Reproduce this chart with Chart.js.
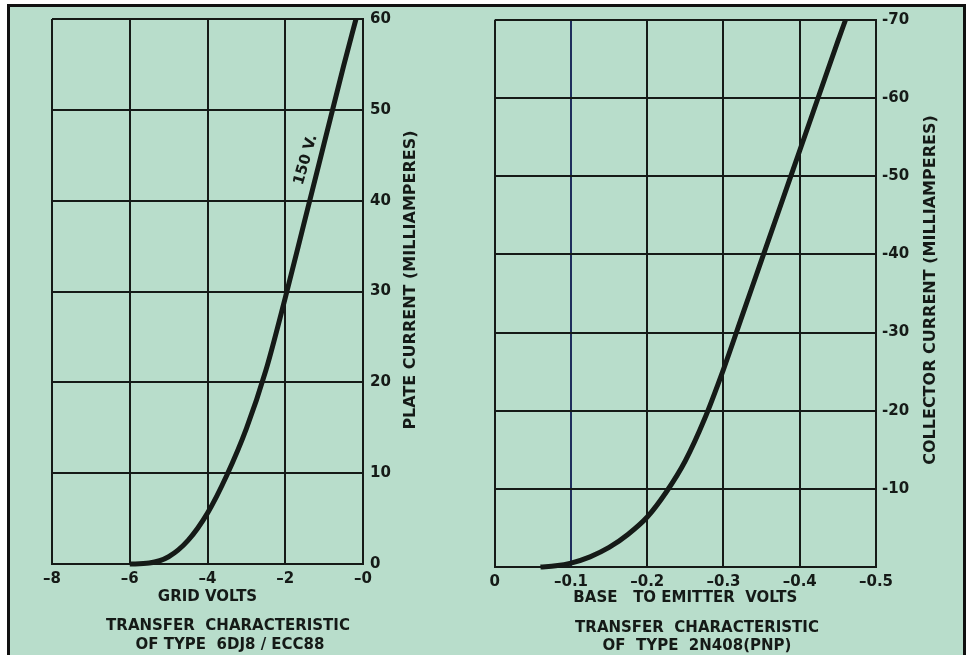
<!DOCTYPE html>
<html>
<head>
<meta charset="utf-8">
<script src="https://cdn.jsdelivr.net/npm/chart.js@4"></script>
<style>
  html, body { margin: 0; padding: 0; background: #fff; }
  body { width: 966px; height: 655px; position: relative; overflow: hidden; }
  #frame { position: absolute; left: 7px; top: 4px; width: 953px; height: 660px;
           border: 3px solid #111; border-bottom: none; background: #b8ddcb; }
  canvas { position: absolute; top: 0; }
  #tube { left: 0; }
  #transistor { left: 483px; }
</style>
</head>
<body>
<div id="frame"></div>
<canvas id="tube" width="483" height="655"></canvas>
<canvas id="transistor" width="483" height="655"></canvas>
<script>
// 6DJ8 / ECC88, 150 V plate
const gridVolts = [-6.0, -5.5, -5.0, -4.5, -4.0, -3.5, -3.0, -2.5, -2.0, -1.5, -1.0, -0.5, -0.18];
const plateCurrent = [0, 0.1, 0.8, 2.6, 5.6, 9.8, 14.9, 21.3, 29.3, 37.8, 46.3, 54.8, 60];

// 2N408 (PNP)
const baseVolts = [-0.06, -0.08, -0.10, -0.125, -0.15, -0.175, -0.20, -0.225, -0.25, -0.275, -0.30, -0.325, -0.35, -0.375, -0.40, -0.425, -0.45, -0.46];
const collectorCurrent = [0, -0.15, -0.5, -1.3, -2.5, -4.2, -6.4, -9.6, -13.6, -18.9, -25.3, -32.3, -39.3, -46.3, -53.3, -60.3, -67.3, -70];

const ink = '#151a17';
const fam = "'DejaVu Sans', sans-serif";
Chart.defaults.font.family = fam;
Chart.defaults.font.weight = 'bold';
Chart.defaults.color = ink;

// free texts: right-side axis titles, curve label, captions
function sideText(items) {
  return {
    id: 'sideText',
    afterDraw(chart) {
      const ctx = chart.ctx;
      items.forEach(t => {
        let x = t.x, y = t.y;
        if (t.at) {
          x = chart.scales.x.getPixelForValue(t.at[0]);
          y = chart.scales.y.getPixelForValue(t.at[1]);
        }
        ctx.save();
        ctx.fillStyle = ink;
        ctx.textAlign = 'center';
        ctx.textBaseline = 'middle';
        ctx.font = t.font;
        ctx.translate(x, y);
        ctx.rotate((t.angle || 0) * Math.PI / 180);
        ctx.fillText(t.text, 0, 0);
        ctx.restore();
      });
    }
  };
}

const gridOpts = { color: ink, lineWidth: 2, drawTicks: false };
const borderOpts = { color: ink, width: 2 };
const capFont = 'bold 15px ' + fam;
const titleFont = 'bold 16px ' + fam;

new Chart(document.getElementById('tube'), {
  type: 'line',
  data: {
    datasets: [{
      data: gridVolts.map((v, i) => ({ x: v, y: plateCurrent[i] })),
      borderColor: ink,
      borderWidth: 5,
      pointRadius: 0,
      cubicInterpolationMode: 'monotone',
      clip: 4
    }]
  },
  options: {
    responsive: false,
    animation: false,
    layout: { padding: { left: 52, right: 60, top: 19, bottom: 38.5 } },
    plugins: { legend: { display: false }, tooltip: { enabled: false } },
    scales: {
      x: {
        type: 'linear', min: -8, max: 0, position: 'bottom',
        ticks: { stepSize: 2, padding: 6.5, font: { size: 15 }, callback: v => '–' + Math.abs(v) },
        grid: gridOpts,
        border: borderOpts,
        title: { display: true, text: 'GRID VOLTS', font: { size: 15 }, padding: { top: 0, bottom: 10 } },
        afterFit: s => { s.height = 52.5; }
      },
      y: {
        type: 'linear', min: 0, max: 60, position: 'right',
        ticks: { stepSize: 10, padding: 7, font: { size: 15 } },
        grid: gridOpts,
        border: borderOpts,
        afterFit: s => { s.width = 60; }
      }
    }
  },
  plugins: [sideText([
    { text: 'PLATE CURRENT (MILLIAMPERES)', x: 411, y: 280, angle: -90, font: titleFont },
    { text: '150 V.', at: [-1.47, 44.5], angle: -74, font: 'bold 15px ' + fam },
    { text: 'TRANSFER  CHARACTERISTIC', x: 228, y: 626, font: capFont },
    { text: 'OF TYPE  6DJ8 / ECC88', x: 230, y: 645, font: capFont }
  ])]
});

new Chart(document.getElementById('transistor'), {
  type: 'line',
  data: {
    datasets: [{
      data: baseVolts.map((v, i) => ({ x: v, y: collectorCurrent[i] })),
      borderColor: ink,
      borderWidth: 5,
      pointRadius: 0,
      cubicInterpolationMode: 'monotone',
      clip: 4
    }]
  },
  options: {
    responsive: false,
    animation: false,
    layout: { padding: { left: 3, right: 30, top: 20, bottom: 38.5 } },
    plugins: { legend: { display: false }, tooltip: { enabled: false } },
    scales: {
      x: {
        type: 'linear', min: -0.5, max: 0, reverse: true, position: 'bottom',
        ticks: {
          stepSize: 0.1, padding: 6.5, font: { size: 15 },
          callback: v => Math.abs(v) < 1e-9 ? '0' : '–' + Math.abs(v).toFixed(1)
        },
        grid: {
          color: c => (c.tick && Math.abs(c.tick.value + 0.1) < 1e-6) ? '#1d2d5c' : ink,
          lineWidth: 2, drawTicks: false
        },
        border: borderOpts,
        title: { display: true, text: 'BASE   TO EMITTER  VOLTS', font: { size: 15 }, padding: { top: 0, bottom: 9.5 } },
        afterFit: s => { s.height = 49.5; }
      },
      y: {
        type: 'linear', min: -70, max: 0, reverse: true, position: 'right',
        ticks: { stepSize: 10, padding: 6, font: { size: 15 }, callback: v => v === 0 ? '' : '-' + Math.abs(v) },
        grid: gridOpts,
        border: borderOpts,
        afterFit: s => { s.width = 60; }
      }
    }
  },
  plugins: [sideText([
    { text: 'COLLECTOR CURRENT (MILLIAMPERES)', x: 448, y: 290, angle: -90, font: titleFont },
    { text: 'TRANSFER  CHARACTERISTIC', x: 214, y: 628, font: capFont },
    { text: 'OF  TYPE  2N408(PNP)', x: 214, y: 646, font: capFont }
  ])]
});
</script>
</body>
</html>
